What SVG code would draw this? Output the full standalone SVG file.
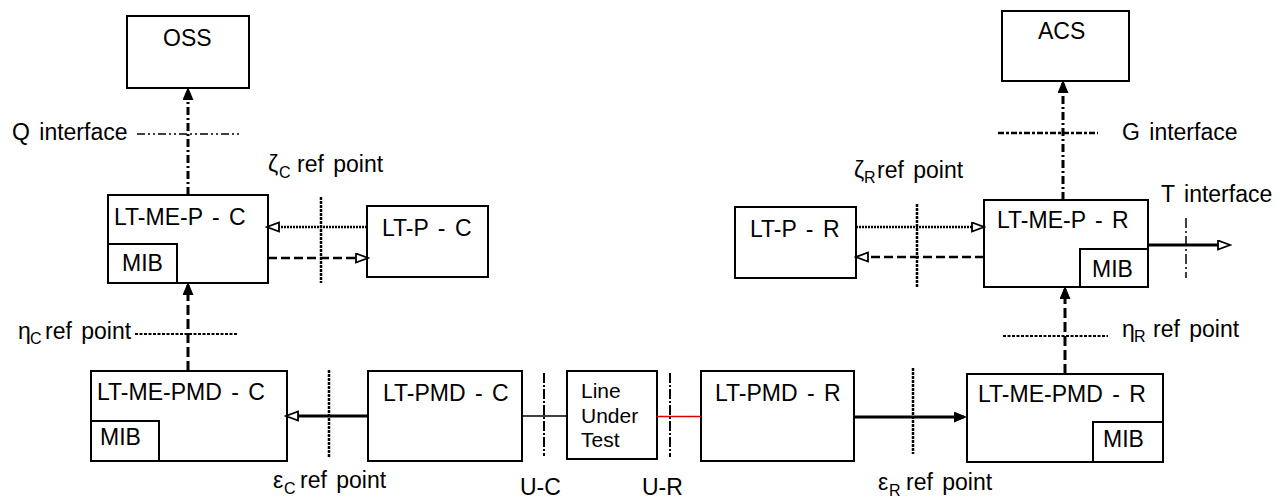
<svg xmlns="http://www.w3.org/2000/svg" width="1282" height="498" viewBox="0 0 1282 498">
<defs>
<marker id="af" markerUnits="userSpaceOnUse" markerWidth="15" markerHeight="12" refX="10" refY="5.5" orient="auto"><path d="M0,0 L13,5.5 L0,11 z" fill="#000"/></marker>
<marker id="ao" markerUnits="userSpaceOnUse" markerWidth="15" markerHeight="12" refX="10" refY="5.5" orient="auto"><path d="M1,1 L13,5.5 L1,10 z" fill="#fff" stroke="#000" stroke-width="1.8"/></marker>
</defs>
<style>
.box{fill:#fff;stroke:#000;stroke-width:2}
text{font-family:"Liberation Sans",Arial,sans-serif;font-size:23px;fill:#000;word-spacing:3px}
.sub{font-size:16px}
.lut{font-size:21px}
.c{fill:none;stroke:#000}
.pipe{stroke-width:3;stroke-dasharray:8 3 2 3}
.pipe2{stroke-width:3;stroke-dasharray:10 4}
.dot{stroke-width:2.5;stroke-dasharray:2 1}
.dash{stroke-width:2.5;stroke-dasharray:9 4}
.solid{stroke-width:3}
.thin{stroke-width:1.5}
.red{stroke:#e00000}
.r{fill:none;stroke:#000}
.q{stroke-width:1.5;stroke-dasharray:8 3 2 3 2 3}
.g{stroke-width:2.5;stroke-dasharray:6 2 3 2}
.z{stroke-width:2.5;stroke-dasharray:3 1}
.eta{stroke-width:2;stroke-dasharray:3 1.5}
.u{stroke-width:2;stroke-dasharray:10 2 2 2}
.t{stroke-width:1.5;stroke-dasharray:10 3 2 3}
</style>

<g id="oss"><rect class="box" x="127" y="16" width="122" height="72"/><text x="163" y="46">OSS</text></g>
<g id="acs"><rect class="box" x="1002" y="11" width="127" height="70"/><text x="1038" y="39">ACS</text></g>
<g id="lt-me-p-c"><rect class="box" x="108" y="195" width="160" height="88"/><rect class="box" x="108" y="244" width="69" height="39"/><text x="114" y="225">LT-ME-P - C</text><text x="122" y="271">MIB</text></g>
<g id="lt-p-c"><rect class="box" x="367" y="206" width="121" height="71"/><text x="382" y="236">LT-P - C</text></g>
<g id="lt-me-pmd-c"><rect class="box" x="91" y="371" width="196" height="90"/><rect class="box" x="91" y="421" width="68" height="40"/><text x="97" y="400">LT-ME-PMD - C</text><text x="100" y="445">MIB</text></g>
<g id="lt-pmd-c"><rect class="box" x="368" y="371" width="154" height="90"/><text x="383" y="401">LT-PMD - C</text></g>
<g id="lut"><rect class="box" x="567" y="371" width="90" height="88"/><text class="lut" x="581" y="398">Line</text><text class="lut" x="581" y="423">Under</text><text class="lut" x="581" y="447">Test</text></g>
<g id="lt-pmd-r"><rect class="box" x="701" y="371" width="153" height="90"/><text x="715" y="401">LT-PMD - R</text></g>
<g id="lt-me-pmd-r"><rect class="box" x="967" y="374" width="196" height="88"/><rect class="box" x="1093" y="422" width="70" height="40"/><text x="978" y="402">LT-ME-PMD - R</text><text x="1103" y="447">MIB</text></g>
<g id="lt-p-r"><rect class="box" x="735" y="207" width="121" height="71"/><text x="750" y="237">LT-P - R</text></g>
<g id="lt-me-p-r"><rect class="box" x="984" y="200" width="164" height="87"/><rect class="box" x="1080" y="249" width="68" height="38"/><text x="997" y="228">LT-ME-P - R</text><text x="1092" y="277">MIB</text></g>

<g id="connectors">
<path class="c pipe" d="M188,195 V90" marker-end="url(#af)"/>
<path class="c pipe2" d="M188,371 V285" marker-end="url(#af)"/>
<path class="c dot" d="M367,227 H270" marker-end="url(#ao)"/>
<path class="c dash" d="M268,258 H365" marker-end="url(#ao)"/>
<path class="c solid" d="M368,416 H289" marker-end="url(#ao)"/>
<path class="c thin" d="M522,416 H567"/>
<path class="c thin red" d="M657,416.5 H701"/>
<path class="c solid" d="M854,417 H964" marker-end="url(#af)"/>
<path class="c pipe2" d="M1065,374 V289" marker-end="url(#af)"/>
<path class="c pipe" d="M1063,200 V83" marker-end="url(#af)"/>
<path class="c dot" d="M856,227 H981" marker-end="url(#ao)"/>
<path class="c dash" d="M984,257 H859" marker-end="url(#ao)"/>
<path class="c solid" d="M1148,245 H1227" marker-end="url(#ao)"/>
</g>

<g id="reference-points">
<path class="r q" d="M137,134 H241"/>
<path class="r g" d="M998,133 H1098"/>
<path class="r z" d="M321,197 V283"/>
<path class="r z" d="M917,204 V287"/>
<path class="r eta" d="M135,334 H237"/>
<path class="r eta" d="M1003,336 H1108"/>
<path class="r z" d="M329,370 V457"/>
<path class="r z" d="M913,368 V454"/>
<path class="r u" d="M544,373 V456"/>
<path class="r u" d="M670,373 V457"/>
<path class="r t" d="M1186,218 V278"/>
</g>

<g id="labels">
<text x="12" y="140">Q interface</text>
<text x="1122" y="140">G interface</text>
<text x="1161" y="202">T interface</text>
<text x="268" y="172">ζ<tspan class="sub" x="279" y="178">C</tspan><tspan x="297" y="172">ref point</tspan></text>
<text x="854" y="178">ζ<tspan class="sub" x="864" y="183">R</tspan><tspan x="877" y="178">ref point</tspan></text>
<text x="18" y="339">η<tspan class="sub" x="30" y="344">C</tspan><tspan x="45" y="339">ref point</tspan></text>
<text x="1122" y="337">η<tspan class="sub" x="1134" y="342">R</tspan><tspan x="1153" y="337">ref point</tspan></text>
<text x="273" y="488">ε<tspan class="sub" x="284" y="494">C</tspan><tspan x="300" y="488">ref point</tspan></text>
<text x="878" y="490">ε<tspan class="sub" x="889" y="496">R</tspan><tspan x="906" y="490">ref point</tspan></text>
<text x="520" y="495">U-C</text>
<text x="642" y="495">U-R</text>
</g>
</svg>
